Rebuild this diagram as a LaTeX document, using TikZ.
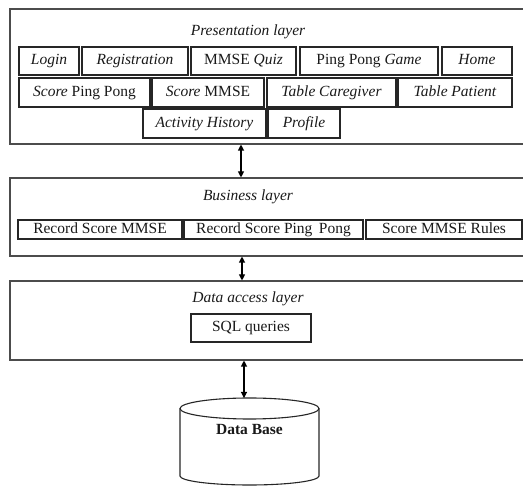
\documentclass[tikz,border=0pt]{standalone}
\usepackage{fontspec}
\setmainfont{Liberation Serif}
\usetikzlibrary{arrows.meta}
\begin{document}
\begin{tikzpicture}[x=1pt,y=-1pt,
  every node/.style={font=\fontsize{15.5}{18}\selectfont, inner sep=0pt, text=black!90, text height=10.5pt, text depth=3pt},
  layer/.style={draw=black!70, line width=1.1pt, inner sep=0pt},
  item/.style={draw=black!85, line width=1.1pt, minimum height=28pt},
  conn/.style={black, line width=1.1pt, {Triangle[length=6pt,width=6pt]}-{Triangle[length=6pt,width=6pt]}}
]
\useasboundingbox (0,0) rectangle (523,486);
% layers
\node[layer, minimum width=516pt, minimum height=135pt] (pres) at (268,76.5) {};
\node[layer, minimum width=516pt, minimum height=78pt] (bus) at (268,217) {};
\node[layer, minimum width=516pt, minimum height=79pt] (dal) at (268,320.5) {};
\node (prest) at (248,32) {\itshape Presentation layer};
\node (bust) at (248,197) {\itshape Business layer};
\node (dalt) at (248,299) {\itshape Data access layer};
% presentation items
\node[item, minimum width=60pt] (login) at (49,61) {\itshape Login};
\node[item, minimum width=106pt] (reg) at (135,61) {\itshape Registration};
\node[item, minimum width=105pt] (quiz) at (243.5,61) {MMSE \itshape Quiz};
\node[item, minimum width=138pt] (game) at (369,61) {Ping Pong \itshape Game};
\node[item, minimum width=70pt] (home) at (477,61) {\itshape Home};
\node[item, minimum width=131pt, minimum height=29pt] (spp) at (84.5,92.5) {\textit{Score} Ping Pong};
\node[item, minimum width=112pt, minimum height=29pt] (smmse) at (208,92.5) {\textit{Score} MMSE};
\node[item, minimum width=129pt, minimum height=29pt] (tcare) at (331.5,92.5) {\itshape Table Caregiver};
\node[item, minimum width=114pt, minimum height=29pt] (tpat) at (455,92.5) {\itshape Table Patient};
\node[item, minimum width=123pt, minimum height=29pt] (hist) at (204.5,123.5) {\itshape Activity History};
\node[item, minimum width=72pt, minimum height=29pt] (prof) at (304,123.5) {\itshape Profile};
% business items
\node[item, minimum width=164pt, minimum height=19pt] (rsm) at (100,229.5) {Record Score MMSE};
\node[item, minimum width=179pt, minimum height=19pt] (rspp) at (273.5,229.5) {Record Score Ping\, Pong};
\node[item, minimum width=156pt, minimum height=19pt] (smr) at (444,229.5) {Score MMSE Rules};
% data access
\node[item, minimum width=120pt] (sql) at (251,328) {SQL queries};
% database cylinder
\draw[black!85, line width=1.1pt] (249.5,408.5) ellipse [x radius=69.5pt, y radius=10.5pt];
\draw[black!85, line width=1.1pt] (180,408.5) -- (180,476) arc[start angle=180, end angle=360, x radius=69.5pt, y radius=9pt] -- (319,408.5);
\node (db) at (249.5,431) {\bfseries Data Base};
\coordinate (dbtop) at (244,398);
% connectors
\coordinate (x1) at (241,0);
\coordinate (x2) at (242,0);
\coordinate (x3) at (244,0);
\draw[conn] (pres.south -| x1) -- (bus.north -| x1);
\draw[conn] (bus.south -| x2) -- (dal.north -| x2);
\draw[conn] (dal.south -| x3) -- (dbtop);
\end{tikzpicture}
\end{document}
